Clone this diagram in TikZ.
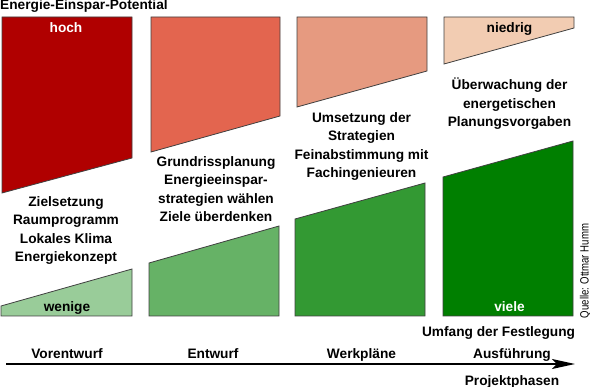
\documentclass[tikz,border=0pt]{standalone}
\usepackage{fontspec}
\usepackage{graphicx}
\setmainfont{Liberation Sans}
\usetikzlibrary{arrows.meta}
\definecolor{rA}{HTML}{B00000}
\definecolor{rB}{HTML}{E3654F}
\definecolor{rC}{HTML}{E69A80}
\definecolor{rD}{HTML}{F2CCB2}
\definecolor{gA}{HTML}{99CC99}
\definecolor{gB}{HTML}{66B266}
\definecolor{gC}{HTML}{339933}
\definecolor{gD}{HTML}{007F00}
\definecolor{edge}{HTML}{404040}
\begin{document}
\begin{tikzpicture}[x=1pt,y=-1pt,
  lab/.style={font=\fontsize{13.7}{18.5}\selectfont\bfseries, align=center, anchor=base, inner sep=0pt},
  shp/.style={draw=edge, line width=0.8pt, line join=miter}]
\useasboundingbox (0,0) rectangle (590,387);
% red shapes
\filldraw[shp, fill=rA] (2,17) -- (132,17) -- (132,158) -- (2,193) -- cycle;
\filldraw[shp, fill=rB] (151,17) -- (280,17) -- (280,116) -- (151,152) -- cycle;
\filldraw[shp, fill=rC] (297,17) -- (427,17) -- (427,71) -- (297,107) -- cycle;
\filldraw[shp, fill=rD] (444,17) -- (574,17) -- (574,28) -- (444,64) -- cycle;
% green shapes
\filldraw[shp, fill=gA] (1,316) -- (1,306) -- (132,269) -- (132,316) -- cycle;
\filldraw[shp, fill=gB] (149,316) -- (149,263) -- (279,226) -- (279,316) -- cycle;
\filldraw[shp, fill=gC] (295,316) -- (295,219) -- (425,183) -- (425,316) -- cycle;
\filldraw[shp, fill=gD] (443,316) -- (443,177) -- (573,141) -- (573,316) -- cycle;
% labels
\node[lab, anchor=base west] (title) at (0,10) {Energie-Einspar-Potential};
\node[lab, text=white] (hoch) at (66,33) {hoch};
\node[lab] (niedrig) at (509.5,33) {niedrig};
\node[lab] (wenige) at (67,312) {wenige};
\node[lab, text=white] (viele) at (509.5,312) {viele};
\node[lab] (t1) at (66,262) {Zielsetzung\\Raumprogramm\\Lokales Klima\\Energiekonzept};
\node[lab] (t2) at (216,222) {Grundrissplanung\\Energieeinspar-\\strategien wählen\\Ziele überdenken};
\node[lab] (t3) at (361.5,178) {Umsetzung der\\Strategien\\Feinabstimmung mit\\Fachingenieuren};
\node[lab] (t4) at (509.5,127) {Überwachung der\\energetischen\\Planungsvorgaben};
\node[lab] (umfang) at (498.5,337) {Umfang der Festlegung};
\node[lab] (p1) at (67,359) {Vorentwurf};
\node[lab] (p2) at (213,359) {Entwurf};
\node[lab] (p3) at (361.5,359) {Werkpläne};
\node[lab] (p4) at (512,359) {Ausführung};
\node[lab] (proj) at (512,385.5) {Projektphasen};
\node[rotate=90, inner sep=0pt, font=\fontsize{12}{12}\selectfont] (quelle) at (585.5,271) {\scalebox{0.8}[1]{Quelle: Ottmar Humm}};
% arrow
\coordinate (a0) at (6,364);
\coordinate (a1) at (575,364);
\draw[line width=1.3pt, -{Stealth[length=23pt, width=10pt, inset=5pt]}] (a0) -- (a1);
\end{tikzpicture}
\end{document}
